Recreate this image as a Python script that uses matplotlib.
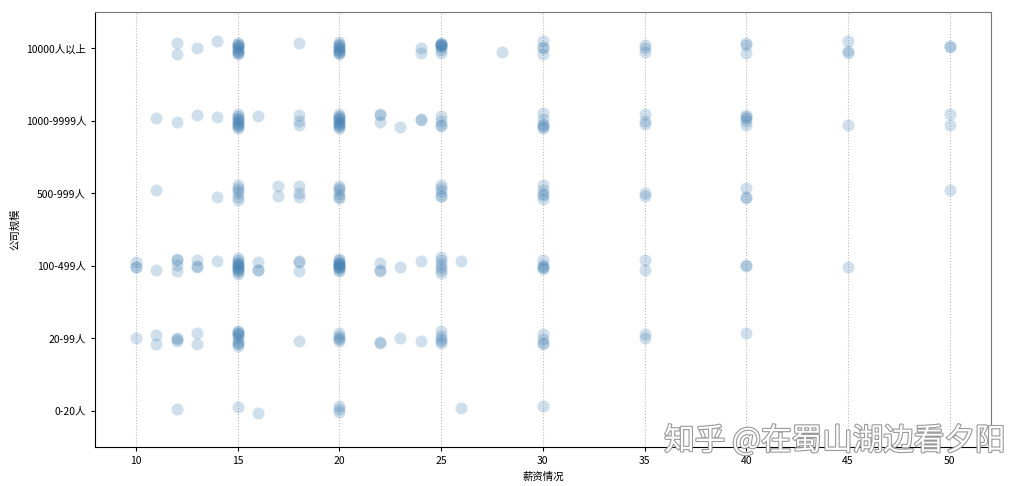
import matplotlib
matplotlib.use('Agg')
import matplotlib.pyplot as plt
import matplotlib.patheffects as pe

# 中文字体
plt.rcParams['font.family'] = ['Noto Sans CJK SC', 'DejaVu Sans']
plt.rcParams['axes.unicode_minus'] = False

# 公司规模类别（从上到下）
sizes = ['10000人以上', '1000-9999人', '500-999人', '100-499人', '20-99人', '0-20人']
salary_ticks = [10, 15, 20, 25, 30, 35, 40, 45, 50]

# 每个类别的薪资（k）以及图中读出的纵向抖动
sal_10000 = [12, 12, 13, 14, 15, 15, 15, 15, 15, 15, 15, 15, 15, 15, 15, 18,
             20, 20, 20, 20, 20, 20, 20, 20, 20, 20, 20, 24, 24,
             25, 25, 25, 25, 25, 25, 25, 25, 25, 28, 30, 30, 30, 30,
             35, 35, 35, 40, 40, 40, 45, 45, 45, 50, 50]
jit_10000 = [-0.07, 0.08, 0.0, -0.10, -0.08, -0.05, -0.03, 0.0, 0.02, 0.05, 0.08, -0.06,
             -0.02, 0.03, 0.06, -0.08,
             -0.09, -0.06, -0.03, 0.0, 0.03, 0.06, 0.08, -0.01, -0.05, 0.02, 0.05,
             -0.01, 0.07,
             -0.08, -0.06, -0.05, -0.03, -0.02, 0.02, 0.07, -0.06, -0.04, 0.05,
             -0.10, -0.01, 0.08, -0.02,
             -0.05, 0.0, 0.05, -0.08, -0.05, 0.07, -0.10, 0.04, 0.07, -0.03, -0.02]

sal_1000 = [11, 12, 13, 14, 15, 15, 15, 15, 15, 15, 15, 15, 15, 15, 15, 16, 18, 18, 18,
            20, 20, 20, 20, 20, 20, 20, 20, 20, 20, 20, 20, 22, 22, 22, 23, 24, 24,
            25, 25, 25, 25, 30, 30, 30, 30, 30, 30, 35, 35, 35,
            40, 40, 40, 40, 40, 45, 50, 50]
jit_1000 = [-0.04, 0.01, -0.08, -0.05, -0.10, -0.07, -0.04, -0.01, 0.02, 0.05, 0.08, 0.10,
            -0.03, 0.03, 0.06, -0.07, -0.08, 0.0, 0.05,
            -0.10, -0.07, -0.05, -0.02, 0.0, 0.03, 0.05, 0.08, 0.10, -0.04, 0.01, 0.06,
            -0.09, -0.08, 0.01, 0.08, -0.02, -0.01,
            -0.07, 0.0, 0.06, 0.07, -0.11, -0.03, 0.04, 0.06, 0.08, 0.10, -0.09, 0.0, 0.04,
            -0.08, -0.04, 0.0, 0.05, -0.06, 0.05, -0.10, 0.05]

sal_500 = [11, 14, 15, 15, 15, 15, 15, 15, 17, 17, 18, 18, 18,
           20, 20, 20, 20, 20, 20, 25, 25, 25, 25, 25,
           30, 30, 30, 30, 30, 35, 35, 40, 40, 40, 50]
jit_500 = [-0.05, 0.05, -0.11, -0.08, -0.05, 0.0, 0.05, 0.09, -0.10, 0.04, -0.10, -0.01, 0.05,
           -0.10, -0.04, 0.01, 0.07, 0.05, -0.07, -0.11, -0.07, -0.03, 0.04, 0.03,
           -0.11, -0.05, 0.01, 0.08, 0.02, -0.01, 0.03, -0.07, 0.05, 0.06, -0.04]

sal_100 = [10, 10, 10, 11, 12, 12, 12, 12, 13, 13, 13, 14,
           15, 15, 15, 15, 15, 15, 15, 15, 15, 15, 15, 15, 15, 16, 16, 16, 18, 18, 18,
           20, 20, 20, 20, 20, 20, 20, 20, 20, 20, 20, 20, 20, 22, 22, 22, 23, 24,
           25, 25, 25, 25, 25, 25, 26, 30, 30, 30, 30, 30, 35, 35, 40, 40, 45]
jit_100 = [-0.05, 0.01, 0.02, 0.05, -0.10, -0.01, 0.07, -0.08, -0.08, 0.0, 0.02, -0.07,
           -0.11, -0.08, -0.06, -0.03, -0.01, 0.01, 0.03, 0.05, 0.08, 0.11, -0.02, 0.02, 0.06,
           -0.05, 0.05, 0.06, -0.07, 0.07, -0.06,
           -0.10, -0.08, -0.05, -0.03, -0.01, 0.01, 0.03, 0.05, 0.07, -0.02, -0.04, 0.0, 0.02,
           -0.04, 0.07, 0.06, 0.01, -0.07,
           -0.12, -0.08, -0.03, 0.02, 0.06, 0.10, -0.07, -0.08, -0.01, 0.01, 0.04, 0.02,
           -0.08, 0.05, -0.01, 0.0, 0.01]

sal_20 = [10, 11, 11, 12, 12, 12, 13, 13, 15, 15, 15, 15, 15, 15, 15, 15, 15, 15, 18,
          20, 20, 20, 20, 20, 22, 22, 23, 24, 25, 25, 25, 25, 25,
          30, 30, 30, 30, 35, 35, 40]
jit_20 = [0.0, -0.04, 0.08, 0.0, 0.04, 0.01, -0.08, 0.08, -0.10, -0.08, -0.04, 0.0, 0.04, 0.08,
          0.10, -0.09, 0.06, -0.06, 0.03, -0.08, -0.03, 0.0, 0.04, 0.01, 0.05, 0.06, -0.01, 0.03,
          -0.10, -0.03, 0.03, 0.07, 0.01, -0.06, 0.01, 0.07, 0.08, -0.06, 0.0, -0.07]

sal_0 = [12, 15, 16, 20, 20, 20, 26, 30]
jit_0 = [-0.03, -0.05, 0.03, -0.07, -0.03, 0.01, -0.04, -0.07]

salaries = [sal_10000, sal_1000, sal_500, sal_100, sal_20, sal_0]
jitters = [jit_10000, jit_1000, jit_500, jit_100, jit_20, jit_0]

fig = plt.figure(figsize=(10.34, 4.86), dpi=100)
ax = fig.add_axes([0.092, 0.080, 0.866, 0.895])

for i, (sal, jit) in enumerate(zip(salaries, jitters)):
    ax.scatter(sal, [i + j for j in jit], s=75, color='steelblue',
               alpha=0.25, linewidths=0, zorder=3)

ax.set_xlim(8, 52)
ax.set_ylim(5.5, -0.5)
ax.set_xticks(salary_ticks)
ax.set_yticks(range(len(sizes)))
ax.set_yticklabels(sizes)
ax.tick_params(labelsize=7.5, length=3)
ax.set_xlabel('薪资情况', fontsize=7.5)
ax.set_ylabel('公司规模', fontsize=7.5)
ax.grid(axis='x', linestyle=':', color='#bbbbbb', linewidth=0.8)
ax.set_axisbelow(True)
for side in ['top', 'right']:
    ax.spines[side].set_color('#777777')

# 水印
fig.text(0.972, 0.093, '知乎 @在蜀山湖边看夕阳', ha='right', va='center',
         fontsize=22, color='white',
         path_effects=[pe.withStroke(linewidth=1.6, foreground='#999999')])

fig.savefig('out.png', dpi=100)
